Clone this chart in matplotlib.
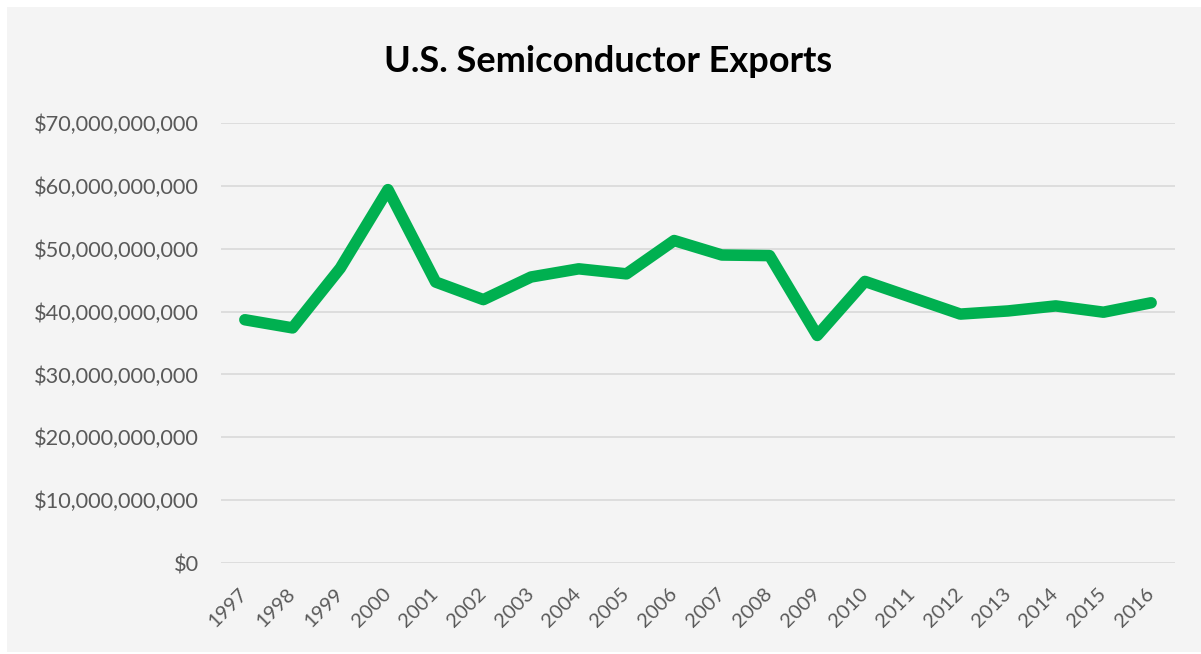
import matplotlib
matplotlib.use("Agg")
import matplotlib.pyplot as plt
from matplotlib.patches import Rectangle
from matplotlib.ticker import FuncFormatter, MultipleLocator

years = ["1997", "1998", "1999", "2000", "2001", "2002", "2003", "2004", "2005", "2006",
         "2007", "2008", "2009", "2010", "2011", "2012", "2013", "2014", "2015", "2016"]
exports = [38.7e9, 37.4e9, 46.9e9, 59.4e9, 44.7e9, 41.9e9, 45.5e9, 46.8e9, 46.0e9, 51.3e9,
           49.0e9, 48.9e9, 36.2e9, 44.8e9, 42.2e9, 39.6e9, 40.1e9, 40.9e9, 39.9e9, 41.4e9]
title = "U.S. Semiconductor Exports"

plt.rcParams['font.family'] = ['Lato', 'DejaVu Sans']

fig = plt.figure(figsize=(12.01, 6.54), dpi=100)
fig.patch.set_facecolor("white")
bg = Rectangle((7 / 1201, 2 / 654), 1 - 7 / 1201, 1 - 9 / 654, transform=fig.transFigure,
               facecolor="#f4f4f4", edgecolor="none", zorder=-10)
fig.patches.append(bg)

ax = fig.add_axes([221 / 1201, 1 - 563 / 654, (1175 - 221) / 1201, (563 - 123) / 654])
ax.set_facecolor("none")
ax.set_zorder(1)

x = list(range(len(years)))
ax.plot(x, exports, color="#00B050", linewidth=8.3, solid_joinstyle="round",
        solid_capstyle="round", zorder=3)

ax.set_xlim(-0.5, len(years) - 0.5)
ax.set_ylim(0, 70e9)
ax.yaxis.set_major_locator(MultipleLocator(10e9))
ax.yaxis.set_major_formatter(FuncFormatter(lambda v, p: "${:,.0f}".format(v)))
ax.grid(axis="y", color="#d9d9d9", linewidth=1.2)
ax.set_axisbelow(True)
for s in ax.spines.values():
    s.set_visible(False)

ax.set_xticks(x)
ax.set_xticklabels(years, rotation=45, ha="right", va="center", rotation_mode="anchor",
                   fontsize=14.5, color="#595959")
ax.tick_params(axis="x", length=0, pad=20)
ax.tick_params(axis="y", length=0, pad=16, labelsize=15.7, labelcolor="#595959")

fig.text(608 / 1201, 1 - 62 / 654, title, ha="center", va="center",
         fontsize=26, fontweight="bold", color="#000000")

fig.savefig("out.png", dpi=100, facecolor=fig.get_facecolor())
